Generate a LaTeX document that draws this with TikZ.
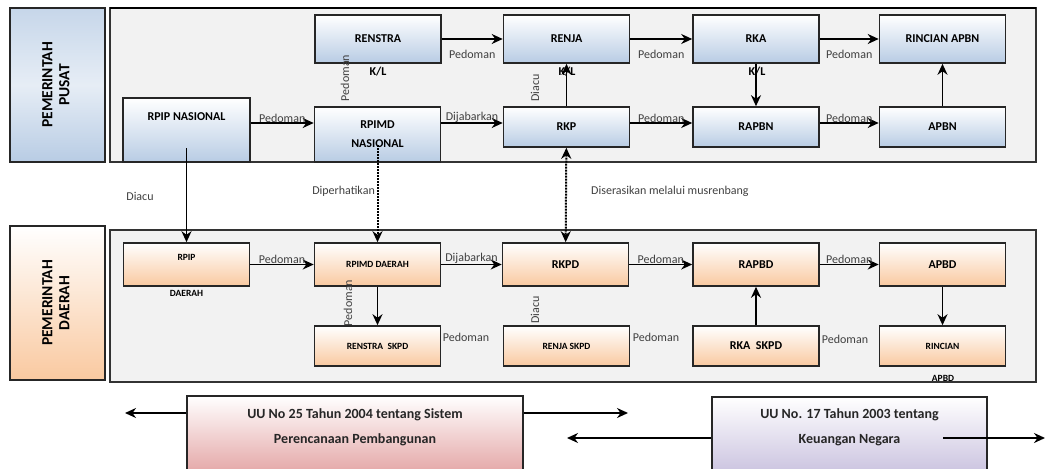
\documentclass[tikz,border=0pt]{standalone}
\usepackage{fontspec}
\setmainfont{Carlito}
\usetikzlibrary{arrows.meta}

\definecolor{pusatblue}{HTML}{B8CCE4}
\definecolor{daerahorange}{HTML}{F9C9A0}
\definecolor{panelgray}{HTML}{F2F2F2}
\definecolor{uured}{HTML}{E3A3A3}
\definecolor{uupurple}{HTML}{C8C0DE}

\begin{document}
\begin{tikzpicture}[
  x=1pt, y=-1pt,
  panel/.style={draw=black!80, line width=1.5pt, fill=panelgray},
  sidebox/.style={draw=black!85, line width=1.8pt, minimum width=95pt, minimum height=154pt,
    font=\fontsize{15.5}{17}\selectfont\bfseries},
  pbox/.style={draw=black!85, line width=1.6pt, top color=white, bottom color=pusatblue,
    minimum width=126pt, minimum height=48pt, align=center,
    font=\fontsize{12}{19}\selectfont\bfseries},
  dbox/.style={draw=black!85, line width=1.6pt, top color=white, bottom color=daerahorange,
    minimum width=126pt, minimum height=43pt, align=center,
    font=\fontsize{12}{14}\selectfont\bfseries},
  small/.style={font=\fontsize{9.5}{11}\selectfont\bfseries},
  btext/.style={font=\fontsize{12}{14}\selectfont\bfseries, inner sep=0pt},
  stext/.style={font=\fontsize{9.5}{11}\selectfont\bfseries, inner sep=0pt},
  lbl/.style={font=\fontsize{12}{14}\selectfont, text=black!75, inner sep=1pt},
  uubox/.style={draw=black!85, line width=1.5pt, top color=white, minimum height=80pt},
  uutext/.style={align=center, font=\fontsize{14}{25}\selectfont\bfseries, text=black!85},
  arr/.style={line width=1.8pt, -{Stealth[length=11pt,width=10pt]}},
  dotarr/.style={line width=2pt, densely dotted, -{Stealth[length=11pt,width=10pt]}},
]

\useasboundingbox (0,0) rectangle (1048,468);
\clip (0,0) rectangle (1048,468);

% pemerintah pusat
\node [sidebox, top color=pusatblue!80, bottom color=pusatblue, middle color=pusatblue!35] (pusat) at (57.5,85)
  {\rotatebox{90}{\begin{tabular}{c}PEMERINTAH\\PUSAT\end{tabular}}};
\draw [panel] (110,8) rectangle (1036,162);
\draw [line width=2.8pt] (110,8) -- (1036,8);

\node [pbox] (renstra) at (378,39) {RENSTRA};
\node [pbox] (renja) at (566.5,39) {RENJA};
\node [pbox] (rka) at (756,39) {RKA};
\node [pbox] (rincianapbn) at (942.5,39) {RINCIAN APBN};

\node [pbox, minimum width=127pt, minimum height=64pt] (rpipn) at (186.5,130) {};
\node [btext] (rpipntext) at (186.5,117) {RPIP NASIONAL};
\node [pbox, minimum height=55pt] (rpimdn) at (377.5,134.5) {RPIMD\\NASIONAL};
\node [pbox, minimum height=40pt] (rkp) at (566.5,127) {RKP};
\node [pbox, minimum height=40pt] (rapbn) at (756,127) {RAPBN};
\node [pbox, minimum height=40pt] (apbn) at (942.5,127) {APBN};

\node [btext] (renstrakl) at (378,72) {K/L};
\node [btext] (renjakl) at (567,72) {K/L};
\node [btext] (rkakl) at (757,72) {K/L};

\draw [arr] (renstra) -- (renja) node [lbl, midway, below=9pt] {Pedoman};
\draw [arr] (renja) -- (rka) node [lbl, midway, below=9pt] {Pedoman};
\draw [arr] (rka) -- (rincianapbn) node [lbl, midway, below=9pt] {Pedoman};

\draw [arr] (rpipn.east |- 0,123) -- (rpimdn.west |- 0,123) node [lbl, midway, above, inner sep=0pt] {Pedoman};
\draw [arr] (rpimdn.east |- 0,123) -- (rkp.west |- 0,123) node [lbl, midway, above, inner sep=0pt] {Dijabarkan};
\draw [arr] (rkp.east |- 0,123) -- (rapbn.west |- 0,123) node [lbl, midway, above, inner sep=0pt] {Pedoman};
\draw [arr] (rapbn.east |- 0,123) -- (apbn.west |- 0,123) node [lbl, midway, above, inner sep=0pt] {Pedoman};

\draw [arr] (rkp) -- (renja);
\draw [arr] (rka) -- (rapbn);
\draw [arr] (apbn) -- (rincianapbn);

\node [lbl, rotate=90] (pedomanpusat) at (345,78) {Pedoman};
\node [lbl, rotate=90] (diacupusat) at (535,88) {Diacu};

% pemerintah daerah
\node [sidebox, top color=white, bottom color=daerahorange] (daerah) at (57.5,303)
  {\rotatebox{90}{\begin{tabular}{c}PEMERINTAH\\DAERAH\end{tabular}}};
\draw [panel] (110,230) rectangle (1036,382);

\node [dbox, small] (rpipd) at (186.5,264.5) {};
\node [stext] (rpipdtext) at (186.5,257) {RPIP};
\node [stext] (rpipddaerah) at (186.5,293) {DAERAH};
\node [dbox, small] (rpimdd) at (377.5,264.5) {RPIMD DAERAH};
\node [dbox] (rkpd) at (565.5,264.5) {RKPD};
\node [dbox] (rapbd) at (756,264.5) {RAPBD};
\node [dbox] (apbd) at (942.5,264.5) {APBD};

\node [dbox, small, minimum height=40pt] (renstraskpd) at (377.5,346) {RENSTRA\ \ SKPD};
\node [dbox, small, minimum height=40pt] (renjaskpd) at (566.5,346) {RENJA SKPD};
\node [dbox, minimum height=40pt] (rkaskpd) at (756,346) {RKA\ \ SKPD};
\node [dbox, small, minimum height=40pt] (rinciand) at (942.5,346) {RINCIAN};
\node [stext] (rinciandapbd) at (943,378) {APBD};

\draw [arr] (rpipd) -- (rpimdd) node [lbl, midway, above, inner sep=0pt] {Pedoman};
\draw [arr] (rpimdd) -- (rkpd) node [lbl, midway, above, inner sep=0pt] {Dijabarkan};
\draw [arr] (rkpd) -- (rapbd) node [lbl, midway, above, inner sep=0pt] {Pedoman};
\draw [arr] (rapbd) -- (apbd) node [lbl, midway, above, inner sep=0pt] {Pedoman};

\draw [arr] (rpimdd) -- (renstraskpd);
\draw [arr] (rkaskpd) -- (rapbd);
\draw [arr] (apbd) -- (rinciand);

\node [lbl, rotate=90] (pedomandaerah) at (348,303) {Pedoman};
\node [lbl, rotate=90] (diacudaerah) at (535,310) {Diacu};
\node [lbl] (pedoman1) at (466,337) {Pedoman};
\node [lbl] (pedoman2) at (656,337) {Pedoman};
\node [lbl] (pedoman3) at (845,339) {Pedoman};

% antara pusat dan daerah
\draw [arr] (rpipn.south |- 0,148) -- (rpipd);
\draw [dotarr] (rpimdn.south |- 0,145) -- (rpimdd);
\draw [dotarr, {Stealth[length=11pt,width=10pt]}-{Stealth[length=11pt,width=10pt]}] (rkp) -- (rkpd);

\node [lbl] (diacu) at (140,196) {Diacu};
\node [lbl, anchor=east] (diperhatikan) at (376,191) {Diperhatikan};
\node [lbl, anchor=west] (diserasikan) at (590,191) {Diserasikan melalui musrenbang};

% undang-undang
\node [uubox, bottom color=uured, minimum width=336pt] (uuplan) at (355,436) {};
\node [uutext] (uuplantext) at (355,427) {UU No 25 Tahun 2004 tentang Sistem\\Perencanaan Pembangunan};
\node [uubox, bottom color=uupurple, minimum width=275pt] (uukeu) at (849.5,437) {};
\node [uutext] (uukeutext) at (849.5,427) {UU No. 17 Tahun 2003 tentang\\Keuangan Negara};

\coordinate (uuplanleft) at (125,413);
\coordinate (uuplanright) at (628,413);
\coordinate (uukeuleft) at (567,438);
\coordinate (uukeustart) at (943,438);
\coordinate (uukeuright) at (1045,438);

\draw [arr] (uuplan.west |- uuplanleft) -- (uuplanleft);
\draw [arr] (uuplan.east |- uuplanright) -- (uuplanright);
\draw [arr] (uukeu.west |- uukeuleft) -- (uukeuleft);
\draw [arr] (uukeustart) -- (uukeuright);

\end{tikzpicture}
\end{document}
